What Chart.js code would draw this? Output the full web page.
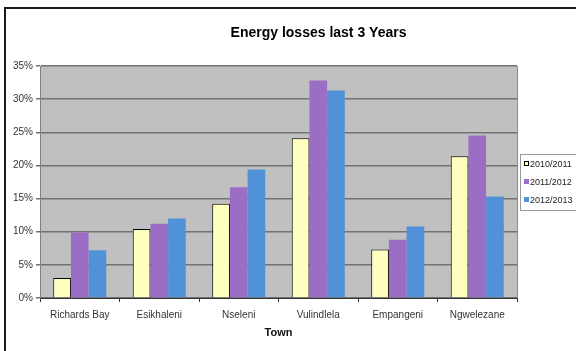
<!DOCTYPE html>
<html lang="en">
<head>
    <meta charset="UTF-8">
    <title>Energy losses last 3 Years</title>
    <script src="https://cdn.jsdelivr.net/npm/chart.js"></script>
    <style>
        html, body { margin: 0; padding: 0; background: #fff; overflow: hidden; }
        #wrap { position: absolute; left: 0; top: 0; width: 631px; height: 351px; }
    </style>
</head>
<body>
    <div id="wrap"><canvas id="lossChart" width="631" height="351"></canvas></div>

    <script>
        // Towns and yearly energy losses (%)
        var towns = ['Richards Bay', 'Esikhaleni', 'Nseleni', 'Vulindlela', 'Empangeni', 'Ngwelezane'];
        var years = ['2010/2011', '2011/2012', '2012/2013'];
        var loss2010 = [3.0, 10.4, 14.2, 24.1, 7.3, 21.4];
        var loss2011 = [9.9, 11.2, 16.7, 32.8, 8.8, 24.5];
        var loss2012 = [7.2, 12.0, 19.4, 31.3, 10.8, 15.3];
        var yTicks = [0, 5, 10, 15, 20, 25, 30, 35];

        var colores = ['#ffffc0', '#9b6ec6', '#5091d8'];
        var fuente = 'Arial, "Liberation Sans", sans-serif';

        // gray plot area + frame round the whole chart
        var fondoPlugin = {
            id: 'fondo',
            beforeDraw: function(chart) {
                var ctx = chart.ctx, a = chart.chartArea;
                ctx.save();
                ctx.fillStyle = '#c0c0c0';
                ctx.fillRect(a.left, a.top, a.right - a.left, a.bottom - a.top);
                ctx.strokeStyle = '#8c8c8c';
                ctx.lineWidth = 1;
                ctx.beginPath();
                ctx.moveTo(a.right + 0.5, a.top);
                ctx.lineTo(a.right + 0.5, a.bottom);
                ctx.stroke();
                // outer frame
                ctx.strokeStyle = '#1a1a1a';
                ctx.lineWidth = 2;
                ctx.beginPath();
                ctx.moveTo(5, chart.height);
                ctx.lineTo(5, 8);
                ctx.lineTo(chart.width, 8);
                ctx.stroke();
                ctx.restore();
            }
        };

        // boxed legend to the right of the plot
        var leyendaPlugin = {
            id: 'leyenda',
            afterDraw: function(chart) {
                var ctx = chart.ctx, a = chart.chartArea;
                var sets = chart.data.datasets;
                var paso = 18;
                var mid = (a.top + a.bottom) / 2;
                var x0 = a.right + 3;
                var top = mid - paso * sets.length / 2 - 1;
                ctx.save();
                ctx.strokeStyle = '#9a9a9a';
                ctx.lineWidth = 1;
                ctx.strokeRect(x0 + 0.5, top + 0.5, 80, paso * sets.length + 2);
                ctx.font = '9px ' + fuente;
                ctx.textBaseline = 'middle';
                sets.forEach(function(ds, i) {
                    var y = mid + (i - (sets.length - 1) / 2) * paso;
                    ctx.fillStyle = ds.backgroundColor;
                    ctx.fillRect(x0 + 4, y - 3, 5, 5);
                    if (ds.borderWidth) {
                        ctx.strokeStyle = '#000';
                        ctx.strokeRect(x0 + 4.5, y - 2.5, 4, 4);
                    }
                    ctx.fillStyle = '#222';
                    ctx.fillText(ds.label, x0 + 10, y + 1);
                });
                ctx.restore();
            }
        };

        var ctxLoss = document.getElementById('lossChart').getContext('2d');
        var lossChart = new Chart(ctxLoss, {
            type: 'bar',
            data: {
                labels: towns,
                datasets: [{
                    label: years[0],
                    data: loss2010,
                    backgroundColor: colores[0],
                    borderColor: '#000',
                    borderWidth: 1
                }, {
                    label: years[1],
                    data: loss2011,
                    backgroundColor: colores[1],
                    borderWidth: 0
                }, {
                    label: years[2],
                    data: loss2012,
                    backgroundColor: colores[2],
                    borderWidth: 0
                }]
            },
            options: {
                responsive: false,
                animation: false,
                datasets: { bar: { categoryPercentage: 0.667, barPercentage: 1.0 } },
                layout: { padding: { left: 6, right: 0, top: 8, bottom: 0 } },
                plugins: {
                    legend: { display: false },
                    tooltip: { enabled: false },
                    title: {
                        display: true,
                        text: 'Energy losses last 3 Years',
                        color: '#000',
                        font: { family: fuente, size: 14, weight: 'bold' },
                        padding: { top: 16.6, bottom: 24.6 }
                    }
                },
                scales: {
                    x: {
                        grid: { offset: true, drawOnChartArea: false, drawTicks: true, tickLength: 4, color: '#333' },
                        border: { color: '#333', width: 1 },
                        ticks: { color: '#333', padding: 7, font: { family: fuente, size: 10 }, maxRotation: 0, autoSkip: false },
                        title: {
                            display: true,
                            text: 'Town',
                            color: '#111',
                            font: { family: fuente, size: 11, weight: 'bold' },
                            padding: { top: 0, bottom: 11.4 }
                        },
                        afterFit: function(s) { s.height = 53; }
                    },
                    y: {
                        min: yTicks[0],
                        max: yTicks[yTicks.length - 1],
                        afterBuildTicks: function(s) { s.ticks = yTicks.map(function(v) { return { value: v }; }); },
                        grid: { color: '#737373', lineWidth: 1.5, tickLength: 4 },
                        border: { color: '#808080', width: 1 },
                        ticks: {
                            color: '#333',
                            padding: 3,
                            font: { family: fuente, size: 10 },
                            callback: function(v) { return v + '%'; }
                        },
                        afterFit: function(s) { s.width = 34; }
                    },
                    // empty space on the right for the legend
                    derecha: {
                        type: 'linear',
                        position: 'right',
                        display: true,
                        grid: { display: false },
                        border: { display: false },
                        ticks: { display: false },
                        afterFit: function(s) { s.width = 114; }
                    }
                }
            },
            plugins: [fondoPlugin, leyendaPlugin]
        });
    </script>
</body>
</html>
